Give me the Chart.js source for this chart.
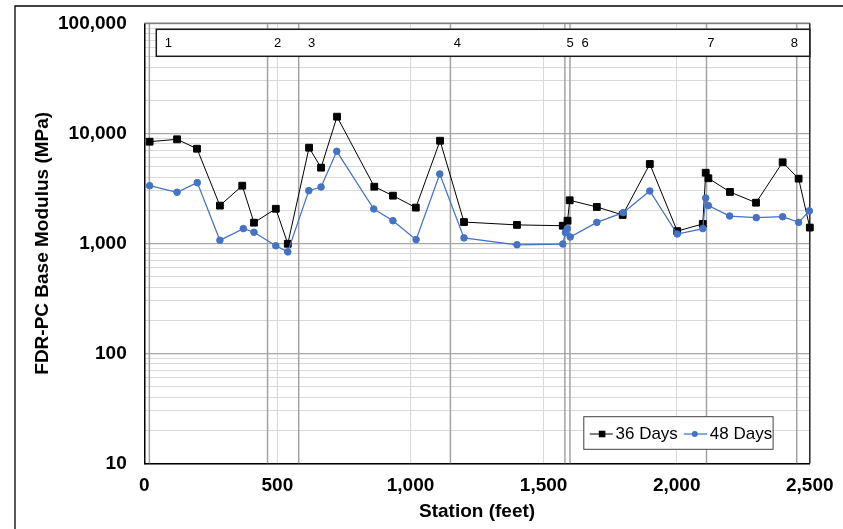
<!DOCTYPE html>
<html>
<head>
<meta charset="utf-8">
<title>FDR-PC Base Modulus</title>
<script src="https://cdn.jsdelivr.net/npm/chart.js@4/dist/chart.umd.min.js"></script>
<style>
  html, body { margin: 0; padding: 0; background: #fff; }
  #wrap { position: relative; width: 843px; height: 529px; overflow: hidden; }
</style>
</head>
<body>
<div id="wrap"><canvas id="modulus-chart" width="843" height="529"></canvas></div>
<script>
// Station (feet) and back-calculated base modulus (MPa), 36 day survey
const stations36 = [20, 123, 198, 284, 368, 412, 494, 539, 619, 664, 724, 864, 934, 1020, 1111, 1201,
  1400, 1572, 1590, 1598, 1700, 1797, 1899, 2002, 2098, 2109, 2119, 2200, 2298, 2398, 2458, 2500];
const modulus36 = [8390, 8820, 7240, 2200, 3340, 1540, 2060, 990, 7400, 4870, 14160, 3270, 2710, 2110, 8560, 1560,
  1470, 1445, 1605, 2460, 2140, 1810, 5260, 1290, 1500, 4380, 3900, 2930, 2340, 5450, 3870, 1390];

// 48 day survey
const stations48 = [20, 123, 199, 284, 372, 412, 494, 539, 618, 664, 723, 862, 934, 1021, 1110, 1201,
  1400, 1572, 1582, 1589, 1600, 1700, 1799, 1899, 2002, 2098, 2109, 2119, 2199, 2299, 2398, 2458, 2498];
const modulus48 = [3340, 2910, 3560, 1065, 1360, 1260, 950, 835, 3010, 3250, 6860, 2050, 1605, 1080, 4270, 1120,
  970, 985, 1250, 1360, 1140, 1550, 1900, 2990, 1215, 1360, 2580, 2200, 1770, 1710, 1745, 1550, 1970];

// section boundaries and their numbers in the top strip
const sectionLines = [19, 463, 580, 1150, 1580, 1599, 2112, 2451];
const sectionNames = ['1', '2', '3', '4', '5', '6', '7', '8'];
const sectionLabelAt = [90, 501, 629, 1176, 1600, 1656, 2128, 2442];

const xTicks = [0, 500, 1000, 1500, 2000, 2500];
const yDecades = [10, 100, 1000, 10000, 100000];

// all log gridlines: 1..9 x each decade, up to the top one
const yTicks = [];
yDecades.forEach((d, i) => {
  if (i === yDecades.length - 1) { yTicks.push(d); return; }
  for (let m = 1; m <= 9; m++) yTicks.push(m * d);
});
const isDecade = v => yDecades.includes(v);

const axisFont = { family: '"Liberation Sans", Arial, sans-serif', size: 19, weight: 'bold', lineHeight: 1.2 };
Chart.defaults.color = '#000';

const BLUE = '#4472C4';

// outer frame (left and top edges are all that show in the window)
const framePlugin = {
  id: 'frame',
  beforeDraw(chart) {
    const ctx = chart.ctx;
    ctx.save();
    ctx.fillStyle = '#fff';
    ctx.fillRect(0, 0, chart.width, chart.height);
    ctx.strokeStyle = '#000';
    ctx.lineWidth = 1.3;
    ctx.beginPath();
    ctx.moveTo(15, chart.height + 2);
    ctx.lineTo(15, 6);
    ctx.lineTo(chart.width + 2, 6);
    ctx.stroke();
    ctx.restore();
  }
};

// section boundary lines + numbered strip at the top
const sectionsPlugin = {
  id: 'sections',
  beforeDatasetsDraw(chart) {
    const { ctx, chartArea: a, scales: { x } } = chart;
    ctx.save();
    ctx.strokeStyle = '#a3a3a3';
    ctx.lineWidth = 1.5;
    sectionLines.forEach(s => {
      const px = x.getPixelForValue(s);
      ctx.beginPath();
      ctx.moveTo(px, a.top);
      ctx.lineTo(px, a.bottom);
      ctx.stroke();
    });

    // plot frame top / right
    ctx.strokeStyle = '#7f7f7f';
    ctx.lineWidth = 1.5;
    ctx.beginPath();
    ctx.moveTo(a.left, a.top);
    ctx.lineTo(a.right, a.top);
    ctx.stroke();
    ctx.strokeStyle = '#262626';
    ctx.beginPath();
    ctx.moveTo(a.right, a.top);
    ctx.lineTo(a.right, a.bottom);
    ctx.stroke();

    const bx = a.left + 12, by = a.top + 6, bw = a.right - bx, bh = 27;
    ctx.fillStyle = '#fff';
    ctx.fillRect(bx, by, bw, bh);
    ctx.strokeStyle = '#1a1a1a';
    ctx.lineWidth = 1.5;
    ctx.strokeRect(bx, by, bw, bh);

    ctx.fillStyle = '#000';
    ctx.font = '13px "Liberation Sans", Arial, sans-serif';
    ctx.textAlign = 'center';
    ctx.textBaseline = 'middle';
    sectionNames.forEach((n, i) => {
      ctx.fillText(n, x.getPixelForValue(sectionLabelAt[i]), by + 14);
    });
    ctx.restore();
  },
  afterDraw(chart) {
    // legend box, bottom right of the plot
    const { ctx, chartArea: a } = chart;
    const lx = a.right - 226, ly = a.bottom - 46.6, lw = 189.3, lh = 32.6;
    const cy = ly + 17.3;
    ctx.save();
    ctx.fillStyle = '#fff';
    ctx.fillRect(lx, ly, lw, lh);
    ctx.strokeStyle = '#404040';
    ctx.lineWidth = 1;
    ctx.strokeRect(lx, ly, lw, lh);

    ctx.lineWidth = 1;
    ctx.strokeStyle = '#000';
    ctx.beginPath();
    ctx.moveTo(lx + 6, cy);
    ctx.lineTo(lx + 29, cy);
    ctx.stroke();
    ctx.fillStyle = '#000';
    ctx.fillRect(lx + 18.3 - 3.3, cy - 3.3, 6.6, 6.6);

    ctx.strokeStyle = BLUE;
    ctx.lineWidth = 1.25;
    ctx.beginPath();
    ctx.moveTo(lx + 100, cy);
    ctx.lineTo(lx + 123.5, cy);
    ctx.stroke();
    ctx.fillStyle = BLUE;
    ctx.beginPath();
    ctx.arc(lx + 111, cy, 3, 0, Math.PI * 2);
    ctx.fill();

    ctx.fillStyle = '#000';
    ctx.font = '17px "Liberation Sans", Arial, sans-serif';
    ctx.textAlign = 'left';
    ctx.textBaseline = 'middle';
    ctx.fillText('36 Days', lx + 31.7, cy);
    ctx.fillText('48 Days', lx + 126, cy);
    ctx.restore();
  }
};

new Chart(document.getElementById('modulus-chart'), {
  type: 'line',
  data: {
    datasets: [
      {
        label: '36 Days',
        data: stations36.map((s, i) => ({ x: s, y: modulus36[i] })),
        borderColor: '#000',
        backgroundColor: '#000',
        borderWidth: 1,
        pointStyle: 'rect',
        pointRadius: 4.8,
        pointBorderWidth: 1,
        tension: 0,
        clip: false,
        order: 1
      },
      {
        label: '48 Days',
        data: stations48.map((s, i) => ({ x: s, y: modulus48[i] })),
        borderColor: BLUE,
        backgroundColor: BLUE,
        borderWidth: 1.25,
        pointStyle: 'circle',
        pointRadius: 3.3,
        pointBorderWidth: 1,
        tension: 0,
        clip: false,
        order: 0
      }
    ]
  },
  options: {
    responsive: false,
    animation: false,
    devicePixelRatio: 1,
    layout: { padding: { left: 0, top: 23.3, right: 33.2, bottom: 0 } },
    plugins: {
      legend: { display: false },
      tooltip: { enabled: false }
    },
    scales: {
      x: {
        type: 'linear',
        min: 0,
        max: 2500,
        afterBuildTicks: scale => { scale.ticks = xTicks.map(v => ({ value: v })); },
        afterFit: scale => {
          scale.height = 65.7;
          scale.paddingLeft = 0;
          scale.paddingRight = 0;
        },
        ticks: {
          autoSkip: false,
          maxRotation: 0,
          padding: 10.8,
          font: axisFont,
          callback: v => v.toLocaleString('en-US')
        },
        grid: { drawTicks: false, color: '#d9d9d9', lineWidth: 1 },
        border: { color: '#000', width: 1.5 },
        title: {
          display: true,
          text: 'Station (feet)',
          font: axisFont,
          padding: { top: 0, bottom: 5.6 }
        }
      },
      y: {
        type: 'logarithmic',
        min: 10,
        max: 100000,
        afterBuildTicks: scale => { scale.ticks = yTicks.map(v => ({ value: v })); },
        afterFit: scale => {
          scale.width = 144.3;
          scale.paddingTop = 0;
          scale.paddingBottom = 0;
        },
        ticks: {
          autoSkip: false,
          padding: 17.6,
          font: axisFont,
          callback: v => isDecade(v) ? v.toLocaleString('en-US') : ''
        },
        grid: {
          drawTicks: false,
          color: c => isDecade(c.tick.value) ? '#a6a6a6' : '#d9d9d9',
          lineWidth: c => isDecade(c.tick.value) ? 1.3 : 1
        },
        border: { color: '#000', width: 1.5 },
        title: {
          display: true,
          text: 'FDR-PC Base Modulus (MPa)',
          font: axisFont,
          padding: { top: 31.6, bottom: 0 }
        }
      }
    }
  },
  plugins: [framePlugin, sectionsPlugin]
});
</script>
</body>
</html>
